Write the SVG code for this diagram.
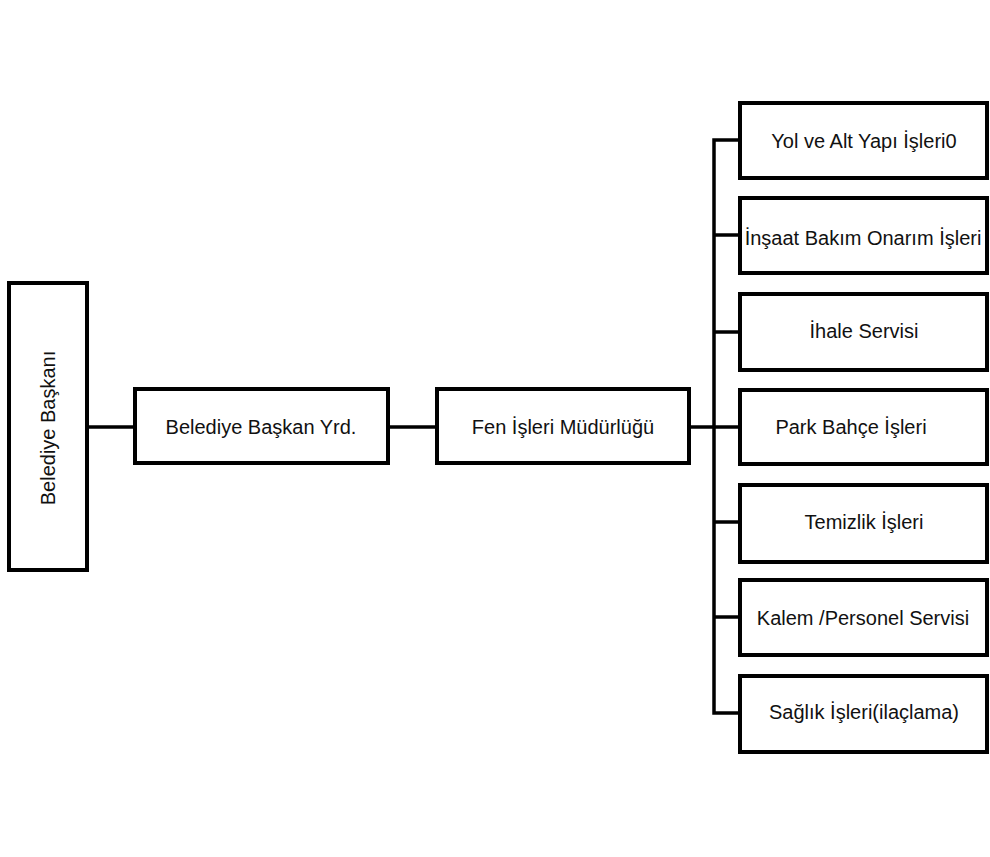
<svg xmlns="http://www.w3.org/2000/svg" width="990" height="857" viewBox="0 0 990 857">
<style>
.box{fill:#fff;stroke:#000;stroke-width:4}
.lbl{font-family:"Liberation Sans",Arial,sans-serif;font-size:20px;fill:#111;text-anchor:middle}
.ln{fill:none;stroke:#000;stroke-width:3.5}
</style>
<rect x="0" y="0" width="990" height="857" fill="#fff"/>
<g id="connectors">
<line class="ln" x1="87" y1="427" x2="135" y2="427"/>
<line class="ln" x1="388" y1="427" x2="437" y2="427"/>
<line class="ln" x1="689" y1="427" x2="740" y2="427"/>
<path class="ln" d="M740 140 H714 V713 H740"/>
<line class="ln" x1="714" y1="235" x2="740" y2="235"/>
<line class="ln" x1="714" y1="332" x2="740" y2="332"/>
<line class="ln" x1="714" y1="522" x2="740" y2="522"/>
<line class="ln" x1="714" y1="617" x2="740" y2="617"/>
</g>
<g id="baskan">
<rect class="box" x="9" y="283" width="78" height="287"/>
<text class="lbl" transform="translate(55,428) rotate(-90)">Belediye Başkanı</text>
</g>
<g id="yardimci">
<rect class="box" x="135" y="389" width="253" height="74"/>
<text class="lbl" x="261" y="434">Belediye Başkan Yrd.</text>
</g>
<g id="fen">
<rect class="box" x="437" y="389" width="252" height="74"/>
<text class="lbl" x="563" y="434">Fen İşleri Müdürlüğü</text>
</g>
<g id="yol">
<rect class="box" x="740" y="103" width="247" height="75"/>
<text class="lbl" x="864" y="148">Yol ve Alt Yapı İşleri0</text>
</g>
<g id="insaat">
<rect class="box" x="740" y="198" width="247" height="75"/>
<text class="lbl" x="863" y="245">İnşaat Bakım Onarım İşleri</text>
</g>
<g id="ihale">
<rect class="box" x="740" y="294" width="247" height="76"/>
<text class="lbl" x="864" y="338">İhale Servisi</text>
</g>
<g id="park">
<rect class="box" x="740" y="390" width="247" height="74"/>
<text class="lbl" x="851" y="434">Park Bahçe İşleri</text>
</g>
<g id="temizlik">
<rect class="box" x="740" y="485" width="247" height="77"/>
<text class="lbl" x="864" y="529">Temizlik İşleri</text>
</g>
<g id="kalem">
<rect class="box" x="740" y="580" width="247" height="75"/>
<text class="lbl" x="863" y="625">Kalem /Personel Servisi</text>
</g>
<g id="saglik">
<rect class="box" x="740" y="676" width="247" height="76"/>
<text class="lbl" x="864" y="719">Sağlık İşleri(ilaçlama)</text>
</g>
</svg>
